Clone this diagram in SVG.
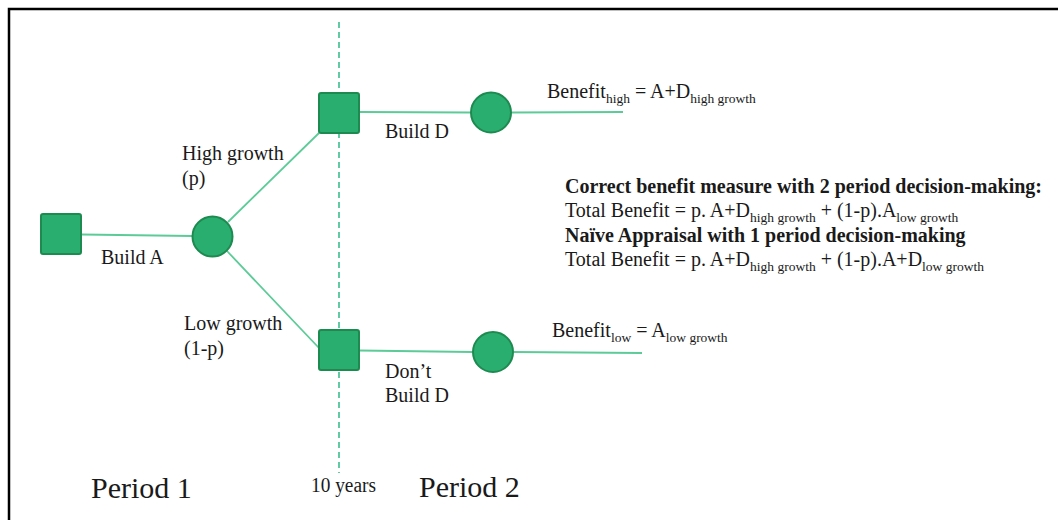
<svg xmlns="http://www.w3.org/2000/svg" width="1058" height="520" viewBox="0 0 1058 520">
  <style>
    .txt { font-family: "Liberation Serif", "Times New Roman", serif; font-size: 20px; fill: #1a1a1a; }
    .big { font-size: 30px; }
    .bold { font-weight: bold; }
    .sub { font-size: 13.5px; }
    .decision { fill: #2aae70; stroke: #1d8a50; stroke-width: 2; }
    .chance { fill: #2aae70; stroke: #1d8a50; stroke-width: 2; }
    .edge { stroke: #5ccb98; stroke-width: 1.8; fill: none; }
    .divider { stroke: #3dbf8c; stroke-width: 1.6; stroke-dasharray: 6 4; fill: none; }
  </style>

  <rect x="0" y="0" width="1058" height="520" fill="#ffffff"/>
  <!-- frame -->
  <rect x="9" y="9" width="1070" height="530" fill="none" stroke="#000000" stroke-width="2.5"/>

  <!-- period divider -->
  <line class="divider" x1="339" y1="22" x2="339" y2="473"/>

  <!-- connectors -->
  <g id="connectors">
    <line class="edge" x1="82" y1="234.5" x2="192" y2="236"/>
    <line class="edge" x1="228" y1="222" x2="319" y2="133"/>
    <line class="edge" x1="227" y1="251" x2="319" y2="348"/>
    <line class="edge" x1="359" y1="112" x2="471" y2="112.5"/>
    <line class="edge" x1="512" y1="112.5" x2="623" y2="112"/>
    <line class="edge" x1="359" y1="350.5" x2="472" y2="352"/>
    <line class="edge" x1="514" y1="352" x2="642" y2="353"/>
  </g>

  <!-- nodes -->
  <g id="build-a-decision">
    <rect class="decision" x="41" y="214" width="40" height="40" rx="2"/>
  </g>
  <g id="growth-chance">
    <circle class="chance" cx="212.5" cy="236.5" r="20"/>
  </g>
  <g id="high-decision">
    <rect class="decision" x="319" y="93" width="40" height="40" rx="2"/>
  </g>
  <g id="low-decision">
    <rect class="decision" x="319" y="330" width="40" height="40" rx="2"/>
  </g>
  <g id="high-outcome">
    <circle class="chance" cx="491" cy="112.5" r="20"/>
  </g>
  <g id="low-outcome">
    <circle class="chance" cx="493" cy="352" r="20"/>
  </g>

  <!-- branch labels -->
  <g id="labels">
    <text class="txt" x="101" y="264">Build A</text>
    <text class="txt" x="182" y="160">High growth</text>
    <text class="txt" x="182" y="185">(p)</text>
    <text class="txt" x="184" y="330">Low growth</text>
    <text class="txt" x="184" y="355">(1-p)</text>
    <text class="txt" x="385" y="138">Build D</text>
    <text class="txt" x="385" y="378">Don’t</text>
    <text class="txt" x="385" y="402">Build D</text>

    <text class="txt" x="547" y="98">Benefit<tspan class="sub" dy="5">high</tspan><tspan dy="-5"> = A+D</tspan><tspan class="sub" dy="5">high growth</tspan></text>
    <text class="txt" x="552" y="337">Benefit<tspan class="sub" dy="5">low</tspan><tspan dy="-5"> = A</tspan><tspan class="sub" dy="5">low growth</tspan></text>

    <text class="txt bold" x="565" y="193">Correct benefit measure with 2 period decision-making:</text>
    <text class="txt" x="565" y="217">Total Benefit = p. A+D<tspan class="sub" dy="5">high growth</tspan><tspan dy="-5"> + (1-p).A</tspan><tspan class="sub" dy="5">low growth</tspan></text>
    <text class="txt bold" x="565" y="242">Naïve Appraisal with 1 period decision-making</text>
    <text class="txt" x="565" y="266">Total Benefit = p. A+D<tspan class="sub" dy="5">high growth</tspan><tspan dy="-5"> + (1-p).A+D</tspan><tspan class="sub" dy="5">low growth</tspan></text>

    <text class="txt big" x="91" y="498">Period 1</text>
    <text class="txt" x="311" y="492" textLength="65" lengthAdjust="spacingAndGlyphs">10 years</text>
    <text class="txt big" x="419" y="497">Period 2</text>
  </g>
</svg>
